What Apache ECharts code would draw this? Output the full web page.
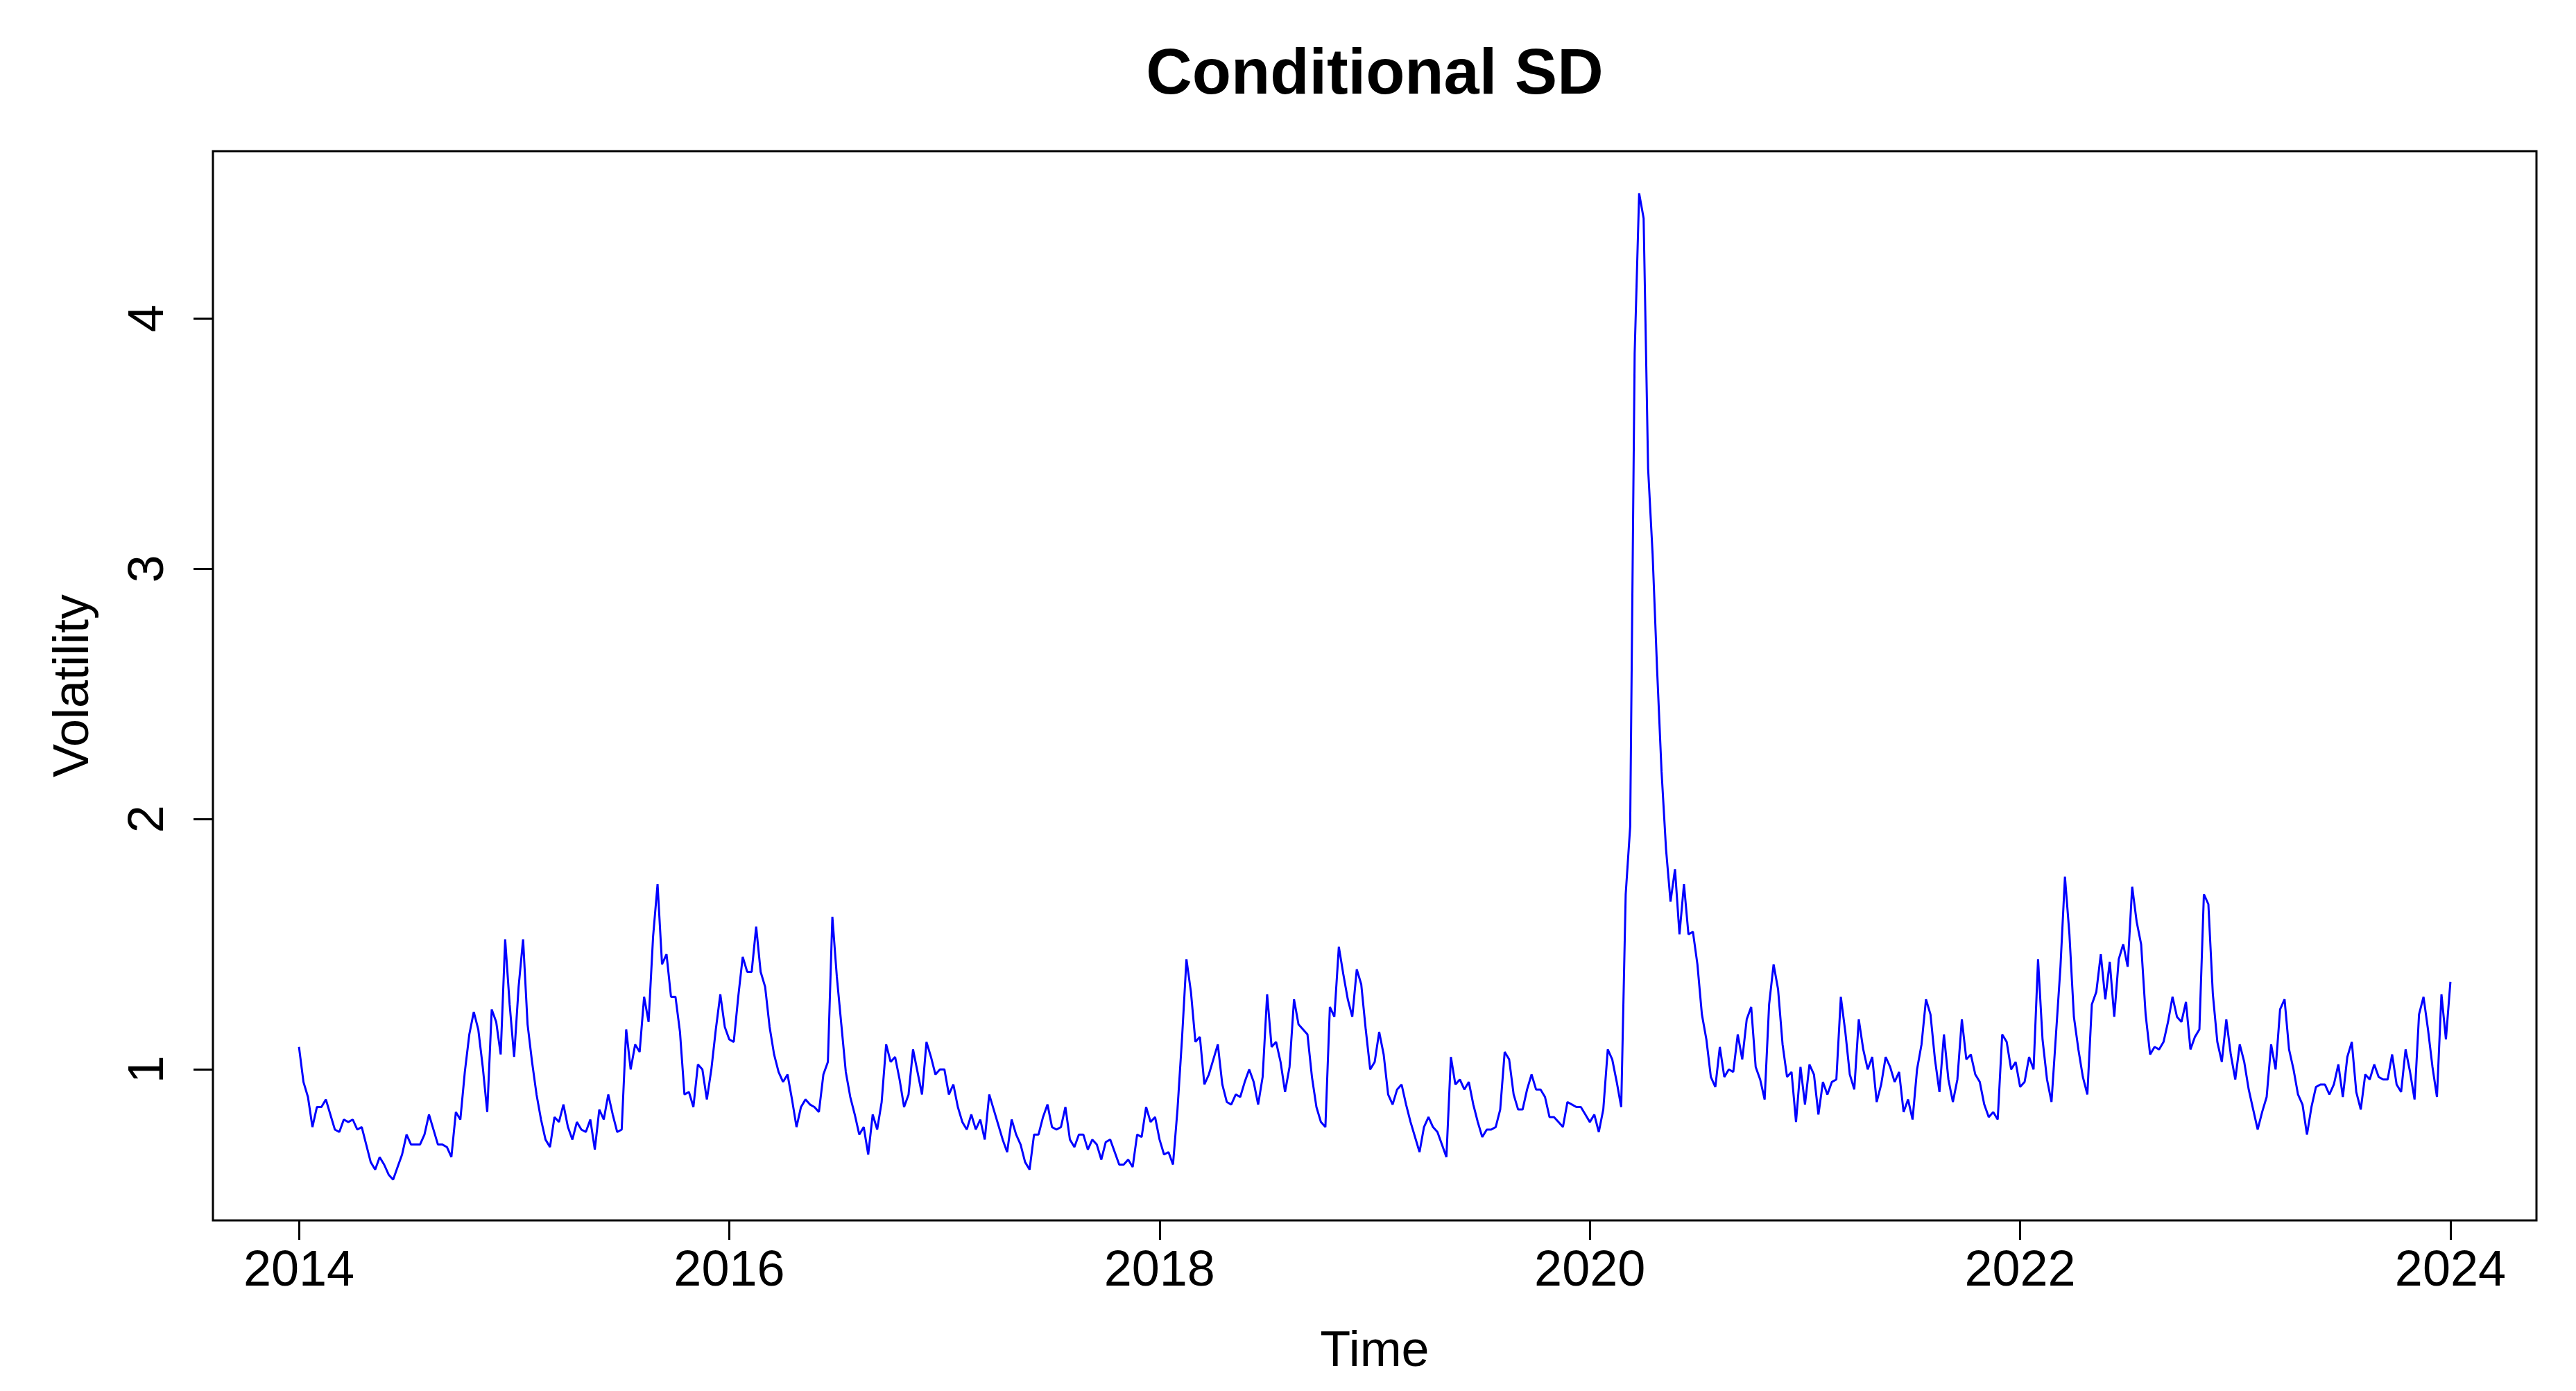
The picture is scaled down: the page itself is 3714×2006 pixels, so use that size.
<!DOCTYPE html>
<html>
<head>
<meta charset="utf-8">
<script src="https://cdn.jsdelivr.net/npm/echarts@6/dist/echarts.min.js"></script>
<style>
html,body{margin:0;padding:0;background:#fff;}
#chart{width:3714px;height:2006px;}
</style>
</head>
<body>
<div id="chart"></div>
<script>
// Conditional SD (volatility) sampled 48 times per year, 2014-2023, plus the final observation
var v2014 = [1.09,0.95,0.89,0.77,0.85,0.85,0.88,0.82,0.76,0.75,0.80,0.79,0.80,0.76,0.77,0.70,0.63,0.60,0.65,0.62,0.58,0.56,0.61,0.66,0.74,0.70,0.70,0.70,0.74,0.82,0.76,0.70,0.70,0.69,0.65,0.83,0.80,0.99,1.14,1.23,1.16,1.01,0.83,1.24,1.19,1.06,1.52,1.26];
var v2015 = [1.05,1.33,1.52,1.18,1.03,0.90,0.80,0.72,0.69,0.81,0.79,0.86,0.77,0.72,0.79,0.76,0.75,0.80,0.68,0.84,0.80,0.90,0.82,0.75,0.76,1.16,1.00,1.10,1.07,1.29,1.19,1.53,1.74,1.42,1.46,1.29,1.29,1.15,0.90,0.91,0.85,1.02,1.00,0.88,1.00,1.16,1.30,1.17];
var v2016 = [1.12,1.11,1.29,1.45,1.39,1.39,1.57,1.39,1.33,1.17,1.06,0.99,0.95,0.98,0.88,0.77,0.85,0.88,0.86,0.85,0.83,0.98,1.03,1.61,1.37,1.18,0.99,0.89,0.82,0.74,0.77,0.66,0.82,0.76,0.87,1.10,1.03,1.05,0.96,0.85,0.90,1.08,0.99,0.90,1.11,1.05,0.98,1.00];
var v2017 = [1.00,0.90,0.94,0.85,0.79,0.76,0.82,0.76,0.80,0.72,0.90,0.84,0.78,0.72,0.67,0.80,0.74,0.70,0.63,0.60,0.74,0.74,0.81,0.86,0.77,0.76,0.77,0.85,0.72,0.69,0.74,0.74,0.68,0.72,0.70,0.64,0.71,0.72,0.67,0.62,0.62,0.64,0.61,0.74,0.73,0.85,0.79,0.81];
var v2018 = [0.72,0.66,0.67,0.62,0.84,1.12,1.44,1.31,1.11,1.13,0.94,0.98,1.04,1.10,0.94,0.87,0.86,0.90,0.89,0.95,1.00,0.95,0.86,0.97,1.30,1.09,1.11,1.03,0.91,1.01,1.28,1.18,1.16,1.14,0.97,0.85,0.79,0.77,1.25,1.21,1.49,1.38,1.28,1.21,1.40,1.34,1.16,1.00];
var v2019 = [1.03,1.15,1.06,0.90,0.86,0.92,0.94,0.86,0.79,0.73,0.67,0.77,0.81,0.77,0.75,0.70,0.65,1.05,0.94,0.96,0.92,0.95,0.86,0.79,0.73,0.76,0.76,0.77,0.84,1.07,1.04,0.90,0.84,0.84,0.92,0.98,0.92,0.92,0.89,0.81,0.81,0.79,0.77,0.87,0.86,0.85,0.85,0.82];
var v2020 = [0.79,0.82,0.75,0.84,1.08,1.04,0.95,0.85,1.70,1.97,3.86,4.50,4.40,3.40,3.06,2.60,2.19,1.88,1.67,1.80,1.54,1.74,1.54,1.55,1.42,1.22,1.12,0.97,0.93,1.09,0.97,1.00,0.99,1.14,1.04,1.20,1.25,1.01,0.96,0.88,1.26,1.42,1.32,1.10,0.97,0.99,0.79,1.01];
var v2021 = [0.86,1.02,0.98,0.82,0.95,0.90,0.95,0.96,1.29,1.15,0.98,0.92,1.20,1.08,1.00,1.05,0.87,0.94,1.05,1.01,0.95,0.99,0.83,0.88,0.80,1.00,1.10,1.28,1.22,1.04,0.91,1.14,0.96,0.87,0.96,1.20,1.04,1.06,0.98,0.95,0.86,0.81,0.83,0.80,1.14,1.11,1.00,1.03];
var v2022 = [0.93,0.95,1.05,1.00,1.44,1.12,0.96,0.87,1.14,1.41,1.77,1.54,1.21,1.08,0.97,0.90,1.26,1.31,1.46,1.28,1.43,1.21,1.44,1.50,1.41,1.73,1.59,1.50,1.22,1.06,1.09,1.08,1.11,1.19,1.29,1.21,1.19,1.27,1.08,1.13,1.16,1.70,1.66,1.30,1.11,1.03,1.20,1.06];
var v2023 = [0.96,1.10,1.03,0.92,0.84,0.76,0.83,0.89,1.10,1.00,1.24,1.28,1.08,1.00,0.90,0.86,0.74,0.85,0.93,0.94,0.94,0.90,0.94,1.02,0.89,1.05,1.11,0.91,0.84,0.98,0.96,1.02,0.97,0.96,0.96,1.06,0.94,0.91,1.08,0.99,0.88,1.22,1.29,1.16,1.01,0.89,1.30,1.12];
var vLast = [1.35];

var years = [2014,2015,2016,2017,2018,2019,2020,2021,2022,2023];
var yearValues = [v2014,v2015,v2016,v2017,v2018,v2019,v2020,v2021,v2022,v2023];
var samplesPerYear = 48;
var xTicks = [2014,2016,2018,2020,2022,2024];
var yTicks = [1,2,3,4];

var seriesData = [];
years.forEach(function(y, k){
  yearValues[k].forEach(function(v, i){
    seriesData.push([y + i / samplesPerYear, v]);
  });
});
seriesData.push([2024, vLast[0]]);

var FONT = 'Liberation Sans, Arial, sans-serif';
var chart = echarts.init(document.getElementById('chart'), null, {renderer: 'canvas'});
var gl = 307, gr = 3657, gt = 218, gb = 1760;
chart.setOption({
  animation: false,
  backgroundColor: '#ffffff',
  grid: {left: gl, top: gt, width: gr - gl, height: gb - gt, show: true,
         borderColor: '#000', borderWidth: 3, backgroundColor: 'transparent'},
  xAxis: {
    type: 'value', min: 2013.6, max: 2024.4,
    axisLine: {show: false},
    splitLine: {show: false},
    axisTick: {show: true, customValues: xTicks, length: 28, lineStyle: {color: '#000', width: 3}},
    axisLabel: {show: true, customValues: xTicks, margin: 38, color: '#000', fontSize: 72, fontFamily: FONT,
                formatter: function(v){ return String(v); }}
  },
  yAxis: {
    type: 'value', min: 0.397, max: 4.668,
    axisLine: {show: false},
    splitLine: {show: false},
    axisTick: {show: true, customValues: yTicks, length: 28, lineStyle: {color: '#000', width: 3}},
    axisLabel: {show: true, customValues: yTicks, rotate: 90, margin: 56, color: '#000', fontSize: 72, fontFamily: FONT,
                formatter: function(v){ return String(v); }}
  },
  series: [{
    type: 'line', data: seriesData, showSymbol: false, symbol: 'none',
    lineStyle: {color: '#0000FF', width: 3}, silent: true
  }],
  graphic: [
    {type: 'text', style: {text: 'Conditional SD', x: (gl + gr) / 2, y: 110, align: 'center', verticalAlign: 'middle',
      font: 'bold 92px ' + FONT, fill: '#000'}},
    {type: 'text', style: {text: 'Time', x: (gl + gr) / 2, y: 1950, align: 'center', verticalAlign: 'middle',
      font: '72px ' + FONT, fill: '#000'}},
    {type: 'text', x: 107, y: (gt + gb) / 2, rotation: Math.PI / 2, style: {text: 'Volatility', x: 0, y: 0, align: 'center', verticalAlign: 'middle',
      font: '72px ' + FONT, fill: '#000'}}
  ]
});
</script>
</body>
</html>
